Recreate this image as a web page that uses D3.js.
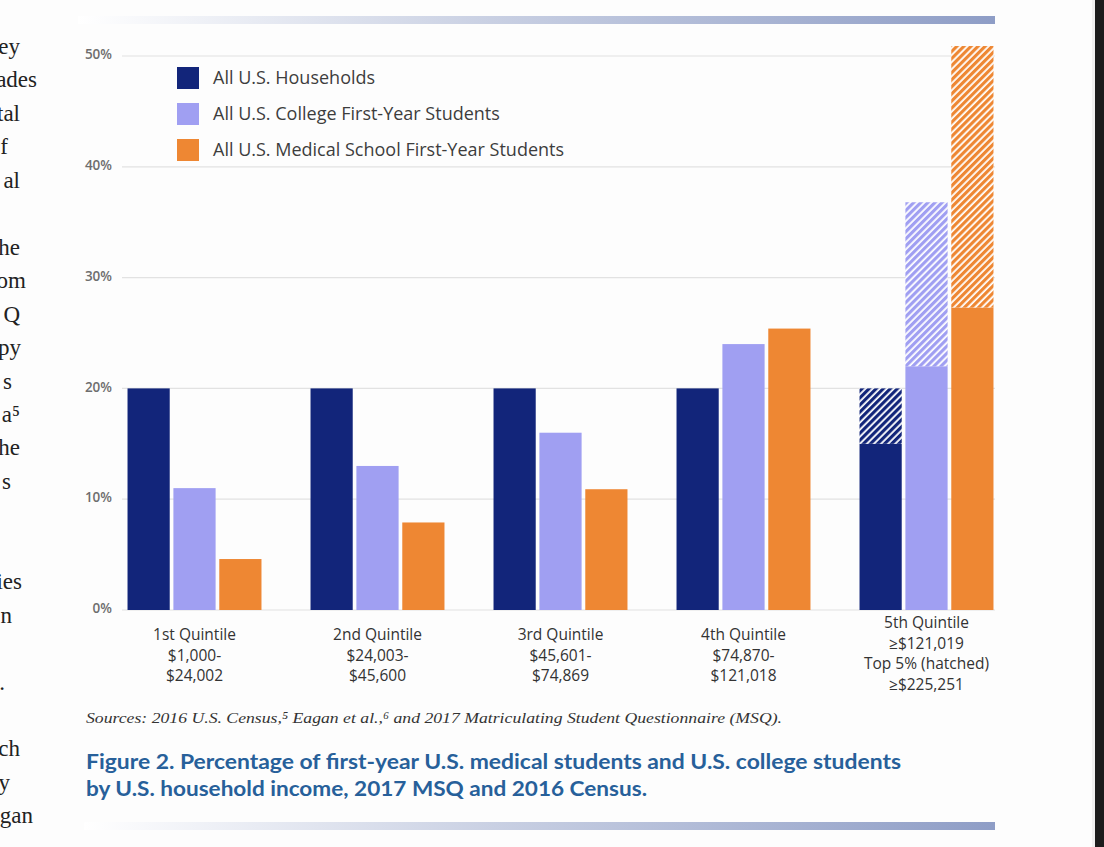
<!DOCTYPE html>
<html>
<head>
<meta charset="utf-8">
<script src="https://cdn.jsdelivr.net/npm/d3@7"></script>
<style>
  html, body { margin: 0; padding: 0; background: #fdfdfd; }
  svg { display: block; }
</style>
</head>
<body>
<svg id="chart" width="1104" height="847"></svg>
<script>
// ---------- data ----------
const categories = ["q1", "q2", "q3", "q4", "q5"];
const categoryLabels = [
  ["1st Quintile", "$1,000-", "$24,002"],
  ["2nd Quintile", "$24,003-", "$45,600"],
  ["3rd Quintile", "$45,601-", "$74,869"],
  ["4th Quintile", "$74,870-", "$121,018"],
  ["5th Quintile", "\u2265$121,019", "Top 5% (hatched)", "\u2265$225,251"]
];
const seriesNames = [
  "All U.S. Households",
  "All U.S. College First-Year Students",
  "All U.S. Medical School First-Year Students"
];
// solid portion of each bar (%)
const households = [20, 20, 20, 20, 15];
const college    = [11, 13, 16, 24, 22];
const medical    = [4.6, 7.9, 10.9, 25.4, 27.3];
// hatched "top 5%" portion stacked above the solid part (%), 5th quintile only
const householdsTop5 = [0, 0, 0, 0, 5];
const collegeTop5    = [0, 0, 0, 0, 14.8];
const medicalTop5    = [0, 0, 0, 0, 23.6];
const yTicks = [0, 10, 20, 30, 40, 50];
const seriesColors = ["#12257a", "#a09ff2", "#ee8733"];

// left column page text fragments (cropped neighbouring page)
const sideText = ["ey","ades","tal","f","al","","he","om","Q","py","s","a\u2075","he","s","","","ies","n","",".","","ch","y","gan"];
const sideTextRight = [20,37,20,8,20,0,20,26,20,21,12,20,20,11,0,0,22,12,0,5,0,20,10,33];

const sourcesText = "Sources: 2016 U.S. Census,\u2075 Eagan et al.,\u2076 and 2017 Matriculating Student Questionnaire (MSQ).";
const captionLines = [
  "Figure 2. Percentage of first-year U.S. medical students and U.S. college students",
  "by U.S. household income, 2017 MSQ and 2016 Census."
];

// ---------- drawing ----------
const svg = d3.select("#chart");
const defs = svg.append("defs");

// gradient bars
const grad = defs.append("linearGradient").attr("id", "rule").attr("x1", "0").attr("x2", "1");
grad.append("stop").attr("offset", "0").attr("stop-color", "#ffffff");
grad.append("stop").attr("offset", "0.45").attr("stop-color", "#c9d0e3");
grad.append("stop").attr("offset", "1").attr("stop-color", "#8e9dc6");
svg.append("rect").attr("x", 78).attr("y", 16).attr("width", 917).attr("height", 8).attr("fill", "url(#rule)");
svg.append("rect").attr("x", 84).attr("y", 822).attr("width", 911).attr("height", 8).attr("fill", "url(#rule)");

// right black strip
svg.append("rect").attr("x", 1092).attr("y", 0).attr("width", 3).attr("height", 847).attr("fill", "#f0f0f0");
svg.append("rect").attr("x", 1095).attr("y", 0).attr("width", 9).attr("height", 847).attr("fill", "#1c1c1c");

// side text
svg.append("g").selectAll("text").data(sideText).join("text")
  .attr("x", (d, i) => sideTextRight[i])
  .attr("y", (d, i) => 54 + i * 33.45)
  .attr("text-anchor", "end")
  .attr("font-family", "'Liberation Serif', 'DejaVu Serif', serif")
  .attr("font-size", 23)
  .attr("fill", "#222")
  .text(d => d);

// hatch patterns
seriesColors.forEach((c, i) => {
  const p = defs.append("pattern")
    .attr("id", "hatch" + i)
    .attr("patternUnits", "userSpaceOnUse")
    .attr("width", 5).attr("height", 5)
    .attr("patternTransform", "rotate(45)");
  p.append("rect").attr("width", 5).attr("height", 5).attr("fill", "#ffffff");
  p.append("rect").attr("width", 3.2).attr("height", 5).attr("fill", c);
});

const y = d3.scaleLinear().domain([0, 50]).range([610, 56]);
const x0 = d3.scaleBand().domain(categories).range([103, 1018]).paddingInner(0.268).paddingOuter(0.134);
const x1 = d3.scaleBand().domain([0, 1, 2]).range([0, x0.bandwidth()]).paddingInner(0.08);

// gridlines
svg.append("g").selectAll("line").data(yTicks).join("line")
  .attr("x1", 122).attr("x2", 995)
  .attr("y1", d => y(d)).attr("y2", d => y(d))
  .attr("stroke", "#e2e2e2").attr("stroke-width", 1.2);

// y axis via d3.axisLeft
const yAxis = svg.append("g")
  .attr("transform", "translate(112,0)")
  .call(d3.axisLeft(y).tickValues(yTicks).tickFormat(d => d + "%").tickSize(0).tickPadding(0));
yAxis.select(".domain").remove();
yAxis.selectAll("text")
  .attr("font-family", "'Open Sans', 'Noto Sans', sans-serif")
  .attr("font-size", 13.5)
  .attr("font-weight", 600)
  .attr("fill", "#6e6e6e")
  .attr("dy", "0.2em");

// bars
const solidSeries = [households, college, medical];
const topSeries = [householdsTop5, collegeTop5, medicalTop5];
const barsG = svg.append("g");
categories.forEach((cat, ci) => {
  const g = barsG.append("g").attr("transform", `translate(${x0(cat)},0)`);
  [0, 1, 2].forEach(si => {
    const v = solidSeries[si][ci];
    const t = topSeries[si][ci];
    g.append("rect")
      .attr("x", x1(si)).attr("width", x1.bandwidth())
      .attr("y", y(v)).attr("height", y(0) - y(v))
      .attr("fill", seriesColors[si]);
    if (t > 0) {
      g.append("rect")
        .attr("x", x1(si)).attr("width", x1.bandwidth())
        .attr("y", y(v + t)).attr("height", y(v) - y(v + t))
        .attr("fill", `url(#hatch${si})`);
    }
  });
});

// x labels
categories.forEach((cat, ci) => {
  const lines = categoryLabels[ci];
  const cx = x0(cat) + x0.bandwidth() / 2;
  const startY = lines.length > 3 ? 628 : 640;
  const t = svg.append("text")
    .attr("text-anchor", "middle")
    .attr("font-family", "'Open Sans', 'Noto Sans', sans-serif")
    .attr("font-size", 15.5)
    .attr("fill", "#333");
  lines.forEach((l, li) => {
    t.append("tspan").attr("x", cx).attr("y", startY + li * 20.5).text(l);
  });
});

// legend
const legend = svg.append("g");
seriesNames.forEach((n, i) => {
  legend.append("rect").attr("x", 177).attr("y", 67 + i * 36).attr("width", 22).attr("height", 22)
    .attr("fill", seriesColors[i]);
  legend.append("text").attr("x", 213).attr("y", 84 + i * 36)
    .attr("font-family", "'Open Sans', 'Noto Sans', sans-serif")
    .attr("font-size", 18)
    .attr("fill", "#3d3d3d")
    .text(n);
});

// sources
svg.append("text")
  .attr("x", 86).attr("y", 723)
  .attr("font-family", "'Liberation Serif', 'DejaVu Serif', serif")
  .attr("font-style", "italic")
  .attr("font-size", 15.5)
  .attr("fill", "#333")
  .attr("textLength", 696).attr("lengthAdjust", "spacingAndGlyphs")
  .text(sourcesText);

// caption
const capWidths = [815, 561];
captionLines.forEach((l, i) => {
  svg.append("text")
    .attr("x", 86).attr("y", 769 + i * 27)
    .attr("font-family", "Lato, 'Open Sans', sans-serif")
    .attr("font-weight", 700)
    .attr("font-size", 20.5)
    .attr("fill", "#27609a")
    .attr("textLength", capWidths[i]).attr("lengthAdjust", "spacingAndGlyphs")
    .text(l);
});
</script>
</body>
</html>
